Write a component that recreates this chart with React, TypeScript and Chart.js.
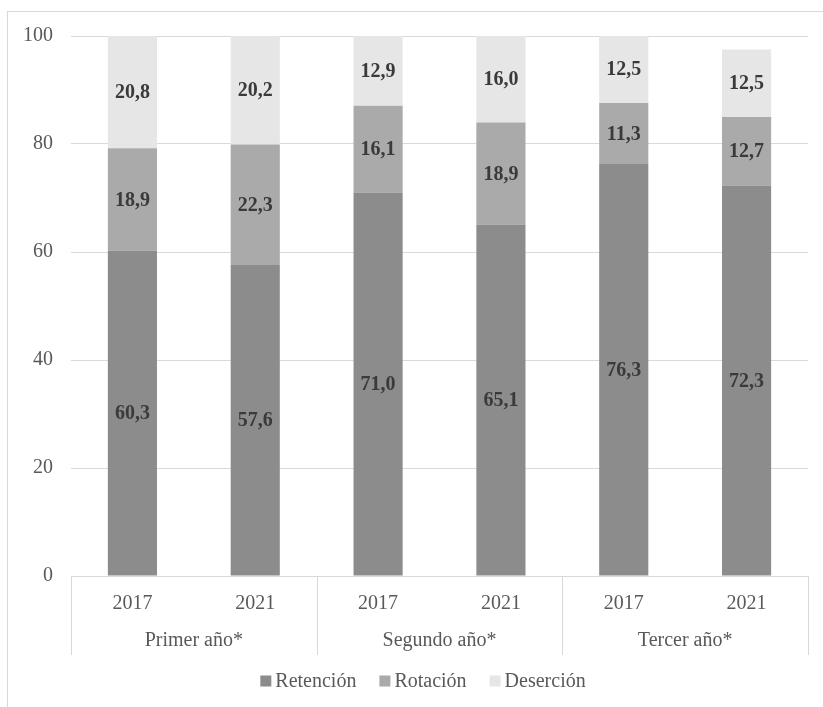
import React, { useEffect, useRef } from "react";
import { Chart, registerables } from "chart.js";

Chart.register(...registerables);

const years = ["2017", "2021", "2017", "2021", "2017", "2021"];
const groups = ["Primer año*", "Segundo año*", "Tercer año*"];
const retencion = [60.3, 57.6, 71.0, 65.1, 76.3, 72.3];
const rotacion = [18.9, 22.3, 16.1, 18.9, 11.3, 12.7];
const desercion = [20.8, 20.2, 12.9, 16.0, 12.5, 12.5];
const seriesNames = ["Retención", "Rotación", "Deserción"];
const seriesColors = ["#8c8c8c", "#aaaaaa", "#e6e6e6"];
const yTicks = [0, 20, 40, 60, 80, 100];

const FONT = "'Liberation Serif', 'DejaVu Serif', serif";

const labelsPlugin = {
  id: "valueLabels",
  afterDatasetsDraw(chart: any) {
    const ctx = chart.ctx;
    ctx.save();
    ctx.font = `bold 20px ${FONT}`;
    ctx.fillStyle = "#3a3a3a";
    ctx.textAlign = "center";
    ctx.textBaseline = "middle";
    chart.data.datasets.forEach((ds: any, di: number) => {
      const meta = chart.getDatasetMeta(di);
      meta.data.forEach((el: any, i: number) => {
        const v = ds.data[i];
        const y = (el.y + el.base) / 2;
        ctx.fillText(v.toFixed(1).replace(".", ","), el.x, y + 1);
      });
    });
    ctx.restore();
  },
};

const groupAxisPlugin = {
  id: "groupAxis",
  afterDraw(chart: any) {
    const ctx = chart.ctx;
    const xs = chart.scales.x;
    const area = chart.chartArea;
    const top = area.bottom;
    const bottom = area.bottom + 79;
    ctx.save();
    ctx.strokeStyle = "#d9d9d9";
    ctx.lineWidth = 1;
    const n = years.length;
    const per = n / groups.length;
    const edges: number[] = [];
    for (let g = 0; g <= groups.length; g++) {
      const idx = g * per;
      let x;
      if (idx === 0) x = area.left;
      else if (idx === n) x = area.right;
      else x = (xs.getPixelForTick(idx - 1) + xs.getPixelForTick(idx)) / 2;
      edges.push(x);
      ctx.beginPath();
      ctx.moveTo(Math.round(x) + 0.5, top);
      ctx.lineTo(Math.round(x) + 0.5, bottom);
      ctx.stroke();
    }
    ctx.font = `20px ${FONT}`;
    ctx.fillStyle = "#595959";
    ctx.textAlign = "center";
    ctx.textBaseline = "middle";
    groups.forEach((g, i) => {
      ctx.fillText(g, (edges[i] + edges[i + 1]) / 2, area.bottom + 65);
    });

    // legend
    ctx.font = `20px ${FONT}`;
    const box = 11;
    const gapText = 4;
    const gapItem = 23;
    const widths = seriesNames.map((s) => box + gapText + ctx.measureText(s).width);
    const total = widths.reduce((a, b) => a + b, 0) + gapItem * (seriesNames.length - 1);
    let x = 423 - total / 2;
    const ly = 681;
    ctx.textAlign = "left";
    seriesNames.forEach((s, i) => {
      ctx.fillStyle = seriesColors[i];
      ctx.fillRect(x, ly - box / 2, box, box);
      ctx.fillStyle = "#595959";
      ctx.fillText(s, x + box + gapText, ly + 1);
      x += widths[i] + gapItem;
    });
    ctx.restore();
  },
};

function App() {
  const ref = useRef<HTMLCanvasElement | null>(null);
  useEffect(() => {
    if (!ref.current) return;
    const chart = new Chart(ref.current, {
      type: "bar",
      data: {
        labels: years,
        datasets: [
          { label: seriesNames[0], data: retencion, backgroundColor: seriesColors[0] },
          { label: seriesNames[1], data: rotacion, backgroundColor: seriesColors[1] },
          { label: seriesNames[2], data: desercion, backgroundColor: seriesColors[2] },
        ].map((d) => ({ ...d, barPercentage: 0.5, categoryPercentage: 0.8, borderWidth: 0 })),
      },
      options: {
        responsive: false,
        animation: false,
        layout: { padding: { left: 0, right: 15, top: 36, bottom: 50 } },
        plugins: { legend: { display: false }, tooltip: { enabled: false } },
        scales: {
          x: {
            stacked: true,
            grid: { display: false },
            border: { display: false },
            ticks: { font: { family: FONT, size: 20 }, color: "#595959", padding: 8, maxRotation: 0 },
            afterFit: (s: any) => {
              s.height = 81;
            },
          },
          y: {
            stacked: true,
            min: 0,
            max: 100,
            afterBuildTicks: (s: any) => {
              s.ticks = yTicks.map((v) => ({ value: v }));
            },
            grid: { color: "#d9d9d9", drawTicks: false },
            border: { display: false },
            ticks: { font: { family: FONT, size: 20 }, color: "#595959", padding: 18 },
            afterFit: (s: any) => {
              s.width = 71;
            },
          },
        },
      },
      plugins: [labelsPlugin, groupAxisPlugin],
    });
    return () => chart.destroy();
  }, []);
  return (
    <div style={{ position: "fixed", left: 0, top: 0, width: 823, height: 707, overflow: "hidden", background: "#fff" }}>
      <div
        style={{
          position: "absolute",
          left: 7,
          top: 11,
          width: 900,
          height: 800,
          border: "1px solid #d9d9d9",
        }}
      />
      <canvas ref={ref} width={823} height={707} style={{ position: "absolute", left: 0, top: 0 }} />
    </div>
  );
}

export default App;
